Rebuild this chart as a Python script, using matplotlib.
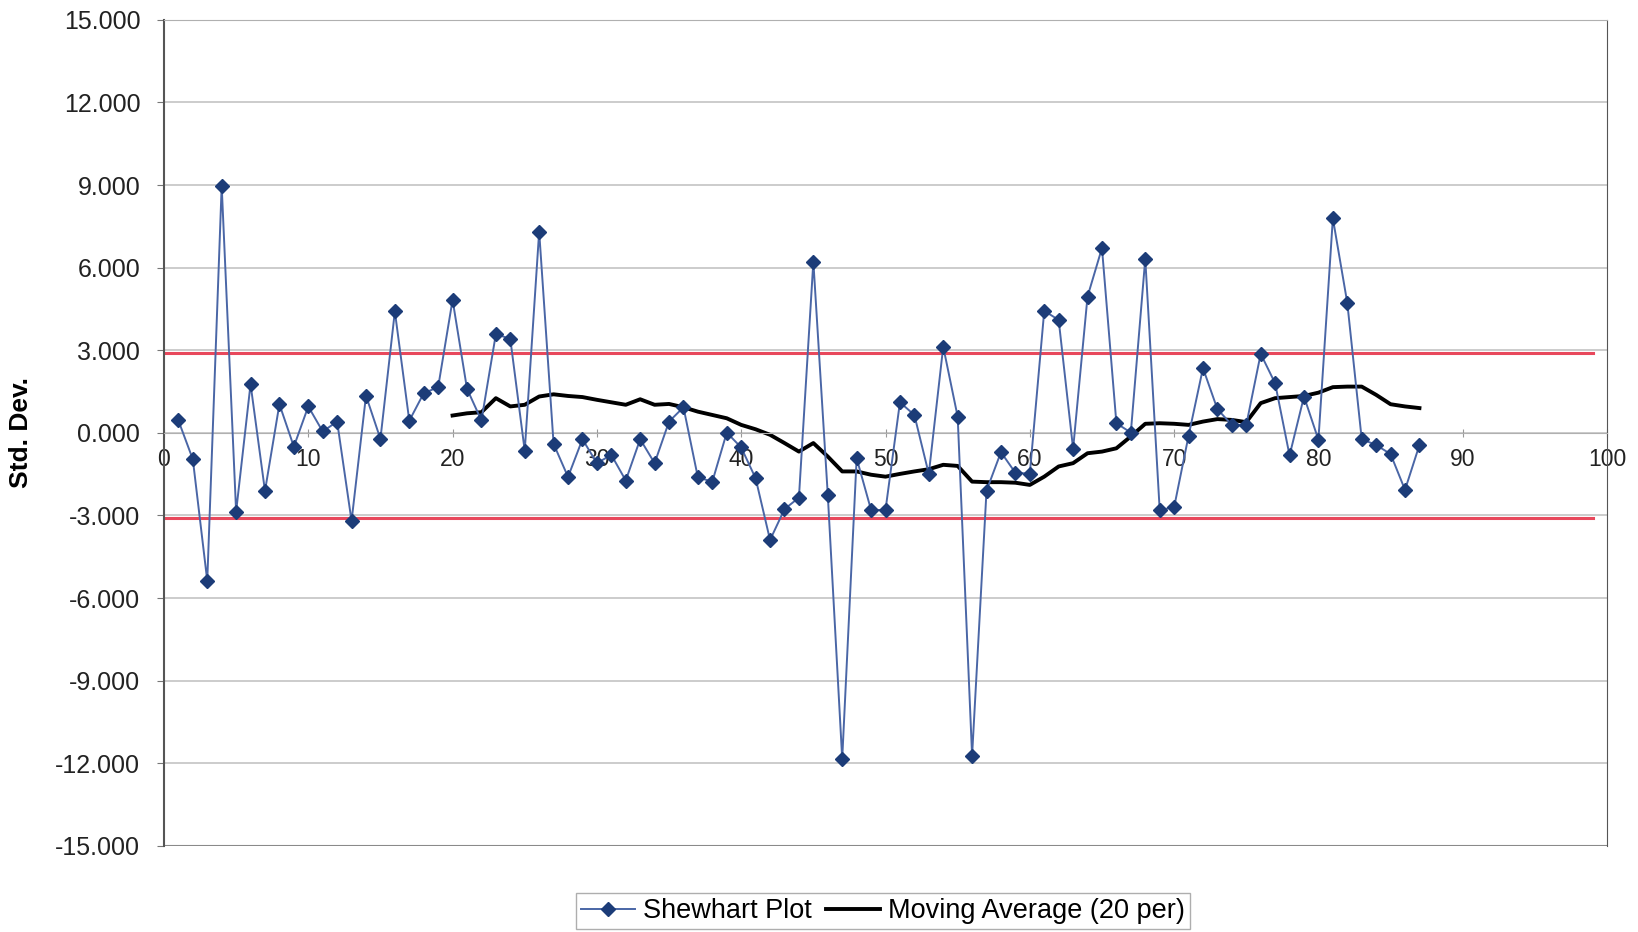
import matplotlib.pyplot as plt
from matplotlib.ticker import FormatStrFormatter, MultipleLocator

plt.rcParams['font.family'] = ['Liberation Sans', 'DejaVu Sans']

# Shewhart plot values (std. dev.), sample 1..87
shewhart_x = list(range(1, 88))
shewhart_y = [
    0.45, -0.96, -5.37, 8.97, -2.86, 1.77, -2.11, 1.04, -0.50, 0.96,
    0.05, 0.41, -3.20, 1.35, -0.22, 4.41, 0.44, 1.44, 1.66, 4.83,
    1.60, 0.45, 3.59, 3.41, -0.65, 7.31, -0.40, -1.60, -0.23, -1.10,
    -0.80, -1.73, -0.23, -1.10, 0.41, 0.93, -1.62, -1.77, 0.01, -0.53,
    -1.65, -3.89, -2.77, -2.35, 6.22, -2.25, -11.84, -0.92, -2.80, -2.80,
    1.11, 0.65, -1.49, 3.13, 0.59, -11.72, -2.10, -0.70, -1.45, -1.48,
    4.43, 4.10, -0.58, 4.95, 6.71, 0.35, 0.01, 6.32, -2.80, -2.70,
    -0.11, 2.35, 0.86, 0.29, 0.29, 2.87, 1.80, -0.82, 1.32, -0.25,
    7.79, 4.72, -0.23, -0.44, -0.77, -2.07, -0.44,
]

# Moving average (20 per), samples 20..87
ma_x = list(range(20, 88))
ma_y = [
    0.63, 0.71, 0.75, 1.26, 0.96, 1.02, 1.32, 1.40, 1.34, 1.30,
    1.20, 1.11, 1.02, 1.22, 1.02, 1.05, 0.93, 0.77, 0.65, 0.53,
    0.29, 0.13, -0.07, -0.37, -0.68, -0.37, -0.86, -1.40, -1.40, -1.52,
    -1.59, -1.49, -1.40, -1.32, -1.16, -1.20, -1.77, -1.79, -1.79, -1.81,
    -1.89, -1.59, -1.22, -1.10, -0.74, -0.68, -0.56, -0.13, 0.33, 0.35,
    0.33, 0.29, 0.41, 0.50, 0.47, 0.39, 1.08, 1.26, 1.30, 1.34,
    1.46, 1.66, 1.68, 1.68, 1.38, 1.04, 0.96, 0.90,
]

# control limits
limit_x = [0, 99]
upper_limit = 2.9
lower_limit = -3.1

fig = plt.figure(figsize=(16.38, 9.32), dpi=100)
ax = fig.add_axes([0.1001, 0.0923, 0.881, 0.8865])

# gridlines and box
for yv in range(-12, 16, 3):
    ax.axhline(yv, color='#c4c4c4', lw=1.2, zorder=0)
ax.axhline(-15, color='#8a8a8a', lw=1.5, zorder=0)

ax.plot(limit_x, [upper_limit] * 2, color='#e8485c', lw=2.2, zorder=1)
ax.plot(limit_x, [lower_limit] * 2, color='#e8485c', lw=2.2, zorder=1)

ax.plot(shewhart_x, shewhart_y, color='#4a66a6', lw=1.4, marker='D',
        markersize=7.5, markerfacecolor='#1c3c78', markeredgecolor='#1c3c78',
        label='Shewhart Plot', zorder=3)
ax.plot(ma_x, ma_y, color='black', lw=2.8, label='Moving Average (20 per)', zorder=2)

ax.set_xlim(0, 100)
ax.set_ylim(-15, 15)
ax.yaxis.set_major_locator(MultipleLocator(3))
ax.yaxis.set_major_formatter(FormatStrFormatter('%.3f'))
ax.xaxis.set_major_locator(MultipleLocator(10))

# x axis crosses at zero
ax.spines['bottom'].set_position(('data', 0))
ax.spines['bottom'].set_color('#b0b0b0')
ax.spines['left'].set_color('#555555')
ax.spines['left'].set_linewidth(1.5)
ax.spines['right'].set_color('#555555')
ax.spines['top'].set_color('#b0b0b0')

ax.tick_params(axis='y', direction='out', length=5, pad=12, labelsize=18,
               color='#777777', labelcolor='#222222')
ax.tick_params(axis='x', direction='inout', length=6, pad=8, labelsize=16.5,
               color='#999999', labelcolor='#222222')

ax.set_ylabel('Std. Dev.', fontsize=19, fontweight='bold', labelpad=16,
              family=['Liberation Sans Narrow', 'Liberation Sans', 'DejaVu Sans'])

fig.legend(loc='center', bbox_to_anchor=(0.539, 0.0225), ncol=2, fontsize=19.5,
           frameon=True, fancybox=False, edgecolor='#9a9a9a', handlelength=2.0,
           handletextpad=0.3, columnspacing=0.5, borderpad=0.2)

plt.savefig('out.png', dpi=100)
plt.close()
